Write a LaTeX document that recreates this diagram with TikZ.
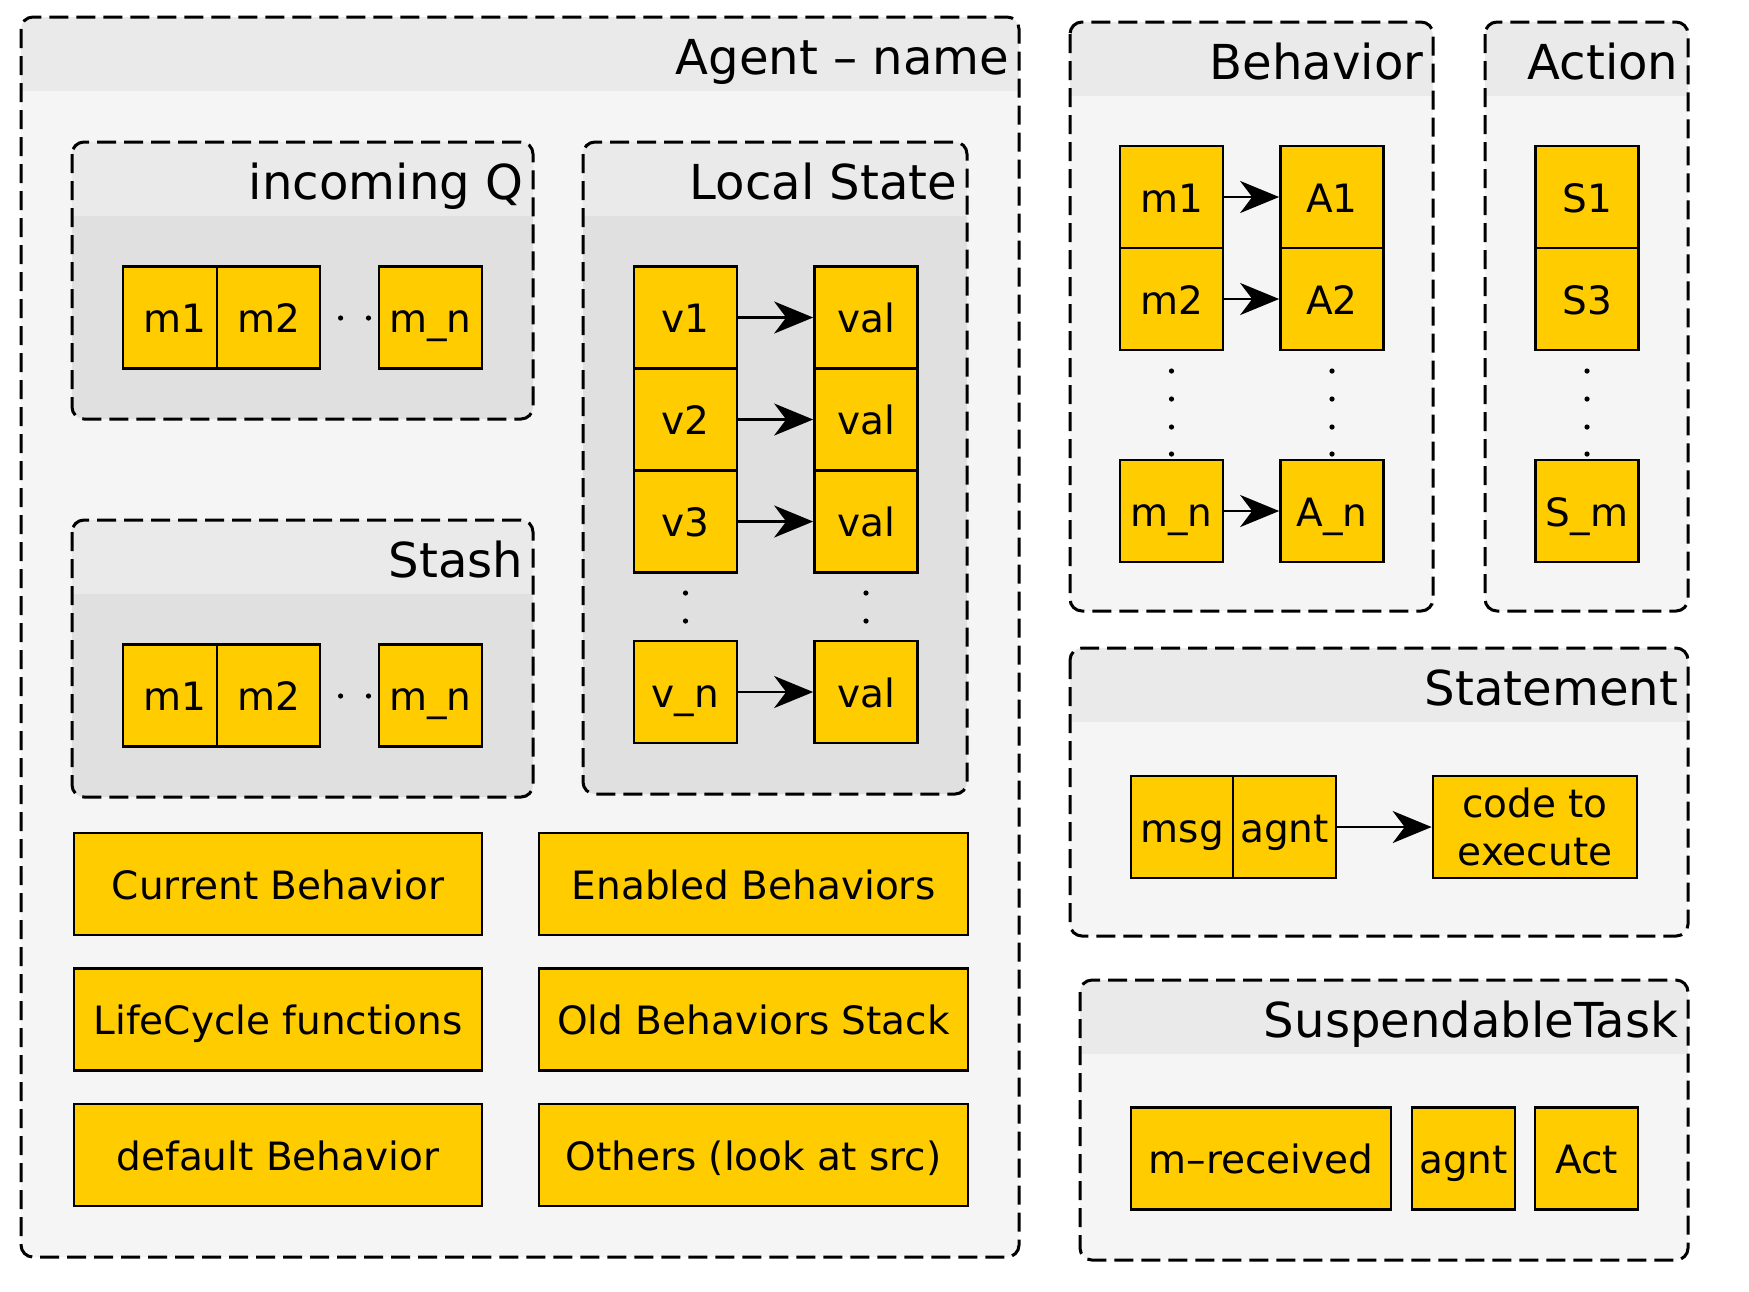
\documentclass[tikz,border=0pt]{standalone}
\usepackage{fontspec}
\setmainfont{DejaVu Sans}
\usepackage{xcolor}
\usetikzlibrary{arrows.meta,positioning}
\definecolor{cellyellow}{HTML}{FFCC00}
\definecolor{panelbody}{HTML}{F5F5F5}
\definecolor{panelhead}{HTML}{EAEAEA}
\definecolor{innerbody}{HTML}{E0E0E0}
\newcommand{\titlefont}{\fontsize{13.7pt}{16pt}\selectfont}
\newcommand{\cellfont}{\fontsize{11.1pt}{13.4pt}\selectfont}
% dashed container: name, body colour, left, top, right, bottom, title
\newcommand{\panel}[7]{%
	\fill[#2, rounded corners=1.2mm] (#3,#4) rectangle (#5,#6);
	\begin{scope}
		\clip[rounded corners=1.2mm] (#3,#4) rectangle (#5,#6);
		\fill[panelhead] (#3,#4) rectangle (#5,#4+74);
	\end{scope}
	\draw[paneledge] (#3,#4) rectangle (#5,#6);
	\node at (#5-9,#4+57) [paneltitle] (#1) {#7};
}

\begin{document}
\begin{tikzpicture}[x=0.1mm, y=-0.1mm,
	cell/.style={draw, fill=cellyellow, line width=0.27mm, inner sep=0pt, minimum width=10.3mm, minimum height=10.2mm, text height=3mm, text depth=0pt, font=\cellfont, align=center},
	wide/.style={cell, minimum width=#1},
	paneledge/.style={draw=black, line width=0.3mm, dash pattern=on 1.9mm off 0.8mm, rounded corners=1.2mm},
	paneltitle/.style={anchor=base east, inner sep=0pt, font=\titlefont},
	link/.style={->, line width=0.27mm},
	>={Stealth[length=3.9mm,width=3.2mm,inset=1.2mm]}]
	\useasboundingbox (0,0) rectangle (1749,1291);

	% agent and its parts
	\panel{agent}{panelbody}{21}{17}{1019}{1257}{Agent -- name}
	\panel{inq}{innerbody}{72}{142}{533}{419}{incoming Q}
	\panel{stash}{innerbody}{72}{520}{533}{797}{Stash}
	\panel{local}{innerbody}{583}{142}{967}{794}{Local State}

	 \node at (174.5,317.5) [cell] (q1) {m1};
	 \node at (268.5,317.5) [cell] (q2) {m2};
	 \node at (430.5,317.5) [cell] (qn) {m\_n};
	 \node at (174.5,695.5) [cell] (s1) {m1};
	 \node at (268.5,695.5) [cell] (s2) {m2};
	 \node at (430.5,695.5) [cell] (sn) {m\_n};
	 \foreach \y in {318,696} {
		\fill (340.6,\y) circle[radius=0.26mm];
		\fill (368.5,\y) circle[radius=0.26mm];
	 }

	 \node at (685.5,317.5) [cell] (v1) {v1};
	 \node at (685.5,419.5) [cell] (v2) {v2};
	 \node at (685.5,521.5) [cell] (v3) {v3};
	 \node at (685.5,692) [cell] (vn) {v\_n};
	 \node at (866,317.5) [cell] (val1) {val};
	 \node at (866,419.5) [cell] (val2) {val};
	 \node at (866,521.5) [cell] (val3) {val};
	 \node at (866,692) [cell] (valn) {val};
	 \foreach \y in {593,621} {
		\fill (685.5,\y) circle[radius=0.26mm];
		\fill (866,\y) circle[radius=0.26mm];
	 }

	 \node at (278,884) [wide=40.8mm] (cur) {Current Behavior};
	 \node at (753.5,884) [wide=42.9mm] (enabled) {Enabled Behaviors};
	 \node at (278,1019.5) [wide=40.8mm] (life) {LifeCycle functions};
	 \node at (753.5,1019.5) [wide=42.9mm] (old) {Old Behaviors Stack};
	 \node at (278,1155) [wide=40.8mm] (dflt) {default Behavior};
	 \node at (753.5,1155) [wide=42.9mm] (others) {Others (look at src)};

	% behavior and action
	\panel{behavior}{panelbody}{1070}{22}{1433}{611}{Behavior}
	\panel{action}{panelbody}{1485}{22}{1688}{611}{Action}

	 \node at (1171.5,197) [cell] (bm1) {m1};
	 \node at (1171.5,299) [cell] (bm2) {m2};
	 \node at (1171.5,511) [cell] (bmn) {m\_n};
	 \node at (1332,197) [cell] (ba1) {A1};
	 \node at (1332,299) [cell] (ba2) {A2};
	 \node at (1332,511) [cell] (ban) {A\_n};
	 \node at (1587,197) [cell] (st1) {S1};
	 \node at (1587,299) [cell] (st3) {S3};
	 \node at (1587,511) [cell] (stm) {S\_m};
	 \foreach \y in {371,399,427,454} {
		\fill (1171.5,\y) circle[radius=0.26mm];
		\fill (1332,\y) circle[radius=0.26mm];
		\fill (1587,\y) circle[radius=0.26mm];
	 }

	% statement and task
	\panel{statement}{panelbody}{1070}{648}{1688}{936}{Statement}
	\panel{task}{panelbody}{1080}{980}{1688}{1260}{SuspendableTask}

	 \node at (1182.5,827) [cell] (msg) {msg};
	 \node at (1284.5,827) [cell] (agnt) {agnt};
	 \node at (1535,827) [wide=20.4mm, text height=7.6mm] (code) {code to\\execute};
	 \node at (1261,1158.5) [wide=26mm] (mrec) {m--received};
	 \node at (1463.5,1158.5) [cell] (tagnt) {agnt};
	 \node at (1586.5,1158.5) [cell] (act) {Act};

	 \draw[link] (v1) -- (val1);
	 \draw[link] (v2) -- (val2);
	 \draw[link] (v3) -- (val3);
	 \draw[link] (vn) -- (valn);
	 \draw[link] (bm1) -- (ba1);
	 \draw[link] (bm2) -- (ba2);
	 \draw[link] (bmn) -- (ban);
	 \draw[link] (agnt) -- (code);

\end{tikzpicture}
\end{document}
